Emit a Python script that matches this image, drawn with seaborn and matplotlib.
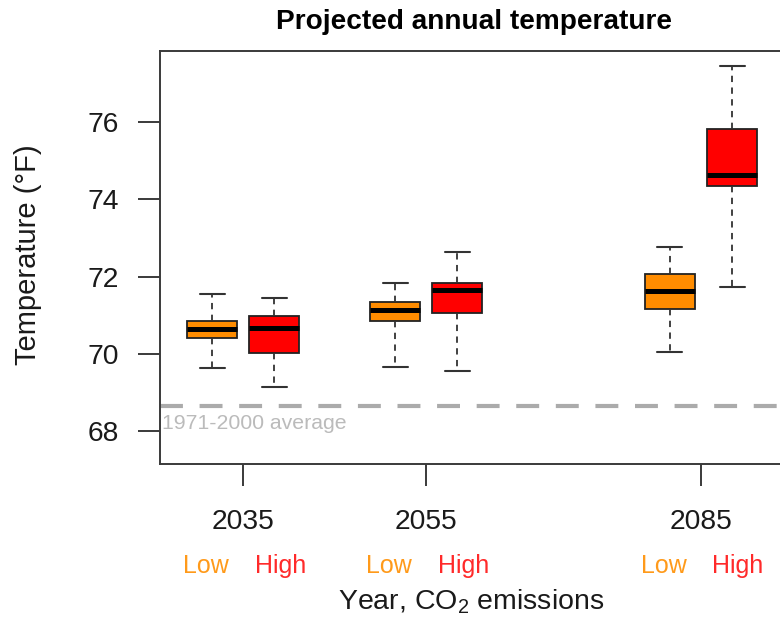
import numpy as np
import pandas as pd
import matplotlib
matplotlib.use("Agg")
import matplotlib.pyplot as plt
import matplotlib.transforms as mtransforms
import seaborn as sns

# ---- data ----
years = [2035, 2035, 2055, 2055, 2085, 2085]
scenarios = ["Low", "High", "Low", "High", "Low", "High"]
whisker_low = [69.64, 69.15, 69.65, 69.56, 70.04, 71.74]
q1 = [70.42, 70.03, 70.86, 71.07, 71.15, 74.34]
median = [70.64, 70.66, 71.14, 71.65, 71.64, 74.63]
q3 = [70.86, 70.98, 71.35, 71.84, 72.06, 75.82]
whisker_high = [71.55, 71.45, 71.84, 72.64, 72.76, 77.45]

year_ticks = [2035, 2055, 2085]
year_labels = ["2035", "2055", "2085"]
scenario_levels = ["Low", "High"]
baseline = 68.65
baseline_label = "1971-2000 average"

box_colors = {"Low": "#FF8C00", "High": "#FF0000"}
text_colors = {"Low": "#FF9A1A", "High": "#FF2A2A"}

rows = []
for yr, sc, a, b, c, d, e in zip(years, scenarios, whisker_low, q1, median, q3, whisker_high):
    for v in (a, b, c, d, e):
        rows.append({"year": yr, "scenario": sc, "temp": v})
df = pd.DataFrame(rows)

sns.set_style("white")
plt.rcParams["font.family"] = ["Liberation Sans", "DejaVu Sans"]
plt.rcParams["mathtext.default"] = "regular"

W, H = 780, 617
fig = plt.figure(figsize=(W / 100, H / 100), dpi=100)
ax = fig.add_axes([160 / W, 1 - 464 / H, (788 - 160) / W, (464 - 51) / H])

sns.boxplot(
    data=df, x="year", y="temp", hue="scenario", hue_order=scenario_levels,
    native_scale=True, whis=(0, 100), width=0.678, gap=0.195,
    palette=box_colors, saturation=1, linecolor="#222222", linewidth=1.3,
    medianprops={"color": "black", "linewidth": 3.6},
    whiskerprops={"color": "#333333", "linestyle": (0, (3.5, 3.0)), "linewidth": 1.3},
    capprops={"color": "#333333", "linewidth": 1.5},
    legend=False, ax=ax,
)

ax.axhline(baseline, color="#ABABAB", lw=3.0, dashes=(5.5, 4.0), zorder=0.5)
ax.text(2026.2, 68.21, baseline_label, color="#BBBBBB", fontsize=15.3,
        ha="left", va="center")

ax.set_xlim(2025.93, 2094.5)
ax.set_ylim(67.15, 77.84)
ax.set_yticks([68, 70, 72, 74, 76])
ax.set_xticks(year_ticks)
ax.set_xticklabels(year_labels)
ax.set_xlabel("")
ax.set_ylabel("")

for s in ["left", "top", "bottom", "right"]:
    ax.spines[s].set_visible(True)
    ax.spines[s].set_color("#3a3a3a")
    ax.spines[s].set_linewidth(1.4)

ax.tick_params(axis="both", direction="out", length=15.5, width=1.4,
               color="#3a3a3a", labelcolor="#1a1a1a", labelsize=20.3,
               bottom=True, left=True, top=False, right=False)
ax.tick_params(axis="y", pad=14)
ax.tick_params(axis="x", pad=17)

trans = mtransforms.blended_transform_factory(ax.transData, ax.transAxes)
for yr in year_ticks:
    ax.text(yr - 4.05, (464 - 566) / 413, "Low", color=text_colors["Low"],
            fontsize=18, ha="center", va="center", transform=trans, clip_on=False)
    ax.text(yr + 4.05, (464 - 566) / 413, "High", color=text_colors["High"],
            fontsize=18, ha="center", va="center", transform=trans, clip_on=False)

fig.text(474 / W, 1 - 22 / H, "Projected annual temperature", fontsize=20.2,
         fontweight="bold", ha="center", va="center", color="black")
fig.text(471.5 / W, 1 - 602 / H, "Year, CO$_2$ emissions", fontsize=20.5,
         ha="center", va="center", color="#1a1a1a")
fig.text(28 / W, 1 - 255 / H, "Temperature (°F)", fontsize=21, rotation=90,
         ha="center", va="center", color="#1a1a1a")

fig.savefig("out.png", dpi=100, facecolor="white")
